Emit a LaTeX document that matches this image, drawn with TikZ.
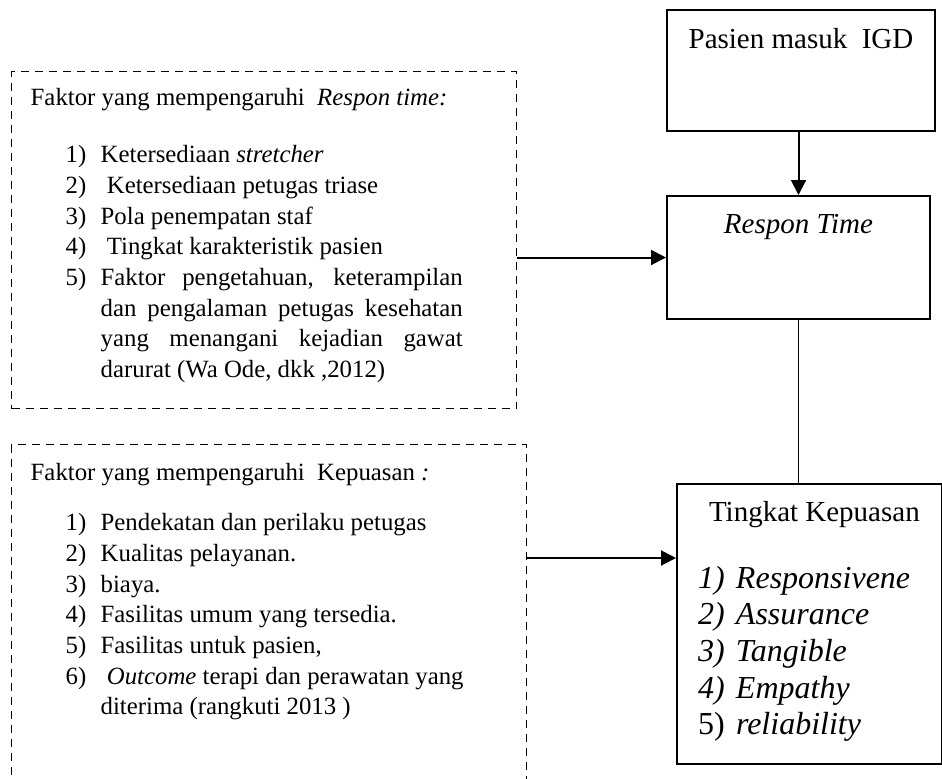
\documentclass[tikz,border=0pt]{standalone}
\usepackage{fontspec}
\setmainfont{Liberation Serif}
\usetikzlibrary{arrows.meta}

% numbered lines inside the boxes
\newcommand{\fitem}[2]{\par\noindent\hangindent=35pt\hangafter=1\makebox[35pt][l]{\hspace{17.5pt}#1}#2\par}
\newcommand{\kitem}[2]{\par\noindent\hangindent=19pt\hangafter=1\makebox[19pt][l]{#1}#2\par}

\begin{document}
\begin{tikzpicture}[x=0.5pt, y=-0.5pt,
  stepbox/.style={draw, line width=1pt, inner sep=0pt, align=center, anchor=north west, font=\fontsize{14.5}{17}\selectfont},
  factorbox/.style={draw, dash pattern=on 4pt off 3pt, line width=0.7pt, inner xsep=9.5pt, inner ysep=0pt, anchor=north west, font=\fontsize{12.4}{15.35}\selectfont},
  arr/.style={line width=1pt, -{Triangle[length=7.5pt,width=7.5pt]}}]
\useasboundingbox (0,0) rectangle (942,778);

\node[stepbox, minimum width=134pt, text height=19pt, text depth=41.5pt] (pasien) at (666,9) {Pasien masuk\ \ IGD};
\node[stepbox, minimum width=131.5pt, text height=18.5pt, text depth=43pt] (respon) at (666,195) {\textit{Respon Time}};
\node[stepbox, inner xsep=10.5pt, text height=18.5pt, text depth=121.5pt] (tingkat) at (676,483) {\parbox[t]{111.5pt}{\hspace*{5.5pt}Tingkat Kepuasan\par\vspace{15.15pt}%
  \fontsize{16}{18.35}\selectfont
  \kitem{\textit{1)}}{\textit{Responsivene}}
  \kitem{\textit{2)}}{\textit{Assurance}}
  \kitem{\textit{3)}}{\textit{Tangible}}
  \kitem{\textit{4)}}{\textit{Empathy}}
  \kitem{5)}{\textit{reliability}}}};

% factor boxes
\node[factorbox, text height=17pt, text depth=151.5pt] (respfactor) at (11,71) {\parbox[t]{233.5pt}{\rightskip=17.5pt\relax
  Faktor yang mempengaruhi\ \ \textit{Respon time:}\par\vspace{13.15pt}
  \fitem{1)}{Ketersediaan \textit{stretcher}}
  \fitem{2)}{\ Ketersediaan petugas triase}
  \fitem{3)}{Pola penempatan staf}
  \fitem{4)}{\ Tingkat karakteristik pasien}
  \fitem{5)}{Faktor pengetahuan, keterampilan\linebreak dan pengalaman petugas kesehatan\linebreak yang menangani kejadian gawat\linebreak darurat (Wa Ode, dkk ,2012)}}};
\node[factorbox, text height=18pt, text depth=160pt] (kepfactor) at (11,444) {\parbox[t]{238.5pt}{%
  Faktor yang mempengaruhi\ \ Kepuasan \textit{:}\par\vspace{9.65pt}
  \fitem{1)}{Pendekatan dan perilaku petugas}
  \fitem{2)}{Kualitas pelayanan.}
  \fitem{3)}{biaya.}
  \fitem{4)}{Fasilitas umum yang tersedia.}
  \fitem{5)}{Fasilitas untuk pasien,}
  \fitem{6)}{\ \textit{Outcome} terapi dan perawatan yang\newline diterima (rangkuti 2013 )}}};

\coordinate (kepin) at ([yshift=33pt]tingkat.west);
\draw[arr] (respon.north |- pasien.south) -- (respon.north);
\draw[arr] (respfactor.east |- respon.west) -- (respon.west);
\draw[line width=0.7pt] (respon.south) -- (respon.south |- tingkat.north);
\draw[arr] (kepfactor.east |- kepin) -- (kepin);
\end{tikzpicture}
\end{document}
